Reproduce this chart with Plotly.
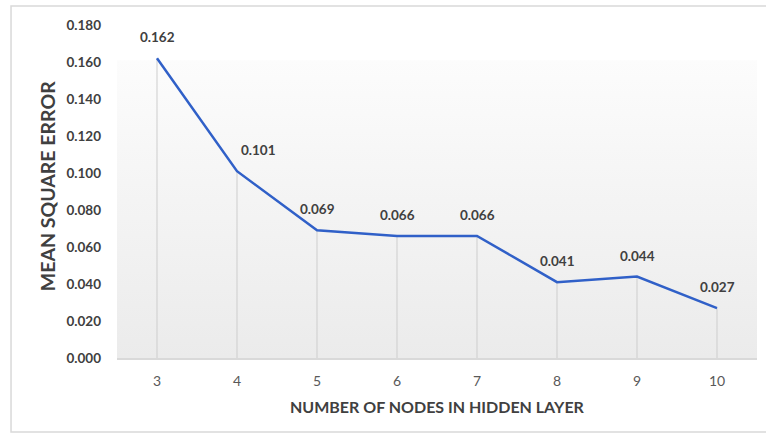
import plotly.graph_objects as go

# Hidden-layer sizes and the resulting mean square error
nodes = [3, 4, 5, 6, 7, 8, 9, 10]
mse = [0.162, 0.101, 0.069, 0.066, 0.066, 0.041, 0.044, 0.027]
mse_labels = ["0.162", "0.101", "0.069", "0.066", "0.066", "0.041", "0.044", "0.027"]
y_ticks = [0.0, 0.02, 0.04, 0.06, 0.08, 0.10, 0.12, 0.14, 0.16, 0.18]

FONT = "Lato, 'Open Sans', sans-serif"
LINE_BLUE = "#3060c8"
TEXT_DARK = "#404040"

# labels that sit beside the line instead of straight above the point
label_xshift = {4: 21}

fig = go.Figure()

# soft vertical gradient behind the plot
x_lo, x_hi = nodes[0] - 0.5, nodes[-1] + 0.5
fig.add_trace(go.Scatter(
    x=[x_lo, x_hi, x_hi, x_lo, x_lo],
    y=[0, 0, 0.161, 0.161, 0],
    mode="lines", line=dict(width=0),
    fill="toself",
    fillgradient=dict(type="vertical",
                      colorscale=[[0, "#ebebeb"], [1, "#fcfcfc"]]),
    hoverinfo="skip", showlegend=False,
))

# drop lines from each point to the axis
fig.add_trace(go.Scatter(
    x=nodes, y=mse, mode="none",
    error_y=dict(type="data", symmetric=False, array=[0] * len(mse),
                 arrayminus=mse, color="#cdcdcd", thickness=1, width=0),
    hoverinfo="skip", showlegend=False,
))

# main MSE line
fig.add_trace(go.Scatter(
    x=nodes, y=mse, mode="lines",
    line=dict(color=LINE_BLUE, width=2.5),
    showlegend=False,
))

# value labels above the points
for xv, yv, lab in zip(nodes, mse, mse_labels):
    fig.add_annotation(x=xv, y=yv, text=lab, showarrow=False,
                       yshift=21, xshift=label_xshift.get(xv, 0),
                       font=dict(family=FONT, size=13.5,
                                 color=TEXT_DARK, weight="bold"))

# axis titles
fig.add_annotation(xref="paper", yref="paper", x=-0.109, y=0.5165,
                   xanchor="center", yanchor="middle",
                   text="MEAN SQUARE ERROR", textangle=-90, showarrow=False,
                   font=dict(family=FONT, size=19.5, color=TEXT_DARK, weight="bold"))
fig.add_annotation(xref="paper", yref="paper", x=0.5, y=-0.147,
                   xanchor="center", yanchor="middle",
                   text="NUMBER OF NODES IN HIDDEN LAYER", showarrow=False,
                   font=dict(family=FONT, size=16, color=TEXT_DARK, weight="bold"))

# outer frame
fig.add_shape(type="rect", xref="paper", yref="paper",
              x0=-0.1656, x1=1.03, y0=-0.2222, y1=1.057,
              line=dict(color="#d9d9d9", width=1.5), layer="below")

fig.update_layout(
    width=766, height=434,
    margin=dict(l=117, r=9, t=25, b=76),
    paper_bgcolor="white", plot_bgcolor="white",
    xaxis=dict(range=[x_lo, x_hi], tickvals=nodes,
               ticktext=[str(n) for n in nodes],
               showgrid=False, zeroline=False,
               showline=True, linecolor="#d9d9d9", linewidth=1.5,
               ticks="", ticklabelstandoff=9,
               tickfont=dict(family=FONT, size=14, color="#595959")),
    yaxis=dict(range=[0, 0.18], tickvals=y_ticks,
               ticktext=[f"{v:.3f}" for v in y_ticks],
               showgrid=False, zeroline=False, showline=False,
               ticks="", ticklabelstandoff=15,
               tickfont=dict(family=FONT, size=13.5, color=TEXT_DARK, weight="bold")),
)

fig.write_html("out.html")
